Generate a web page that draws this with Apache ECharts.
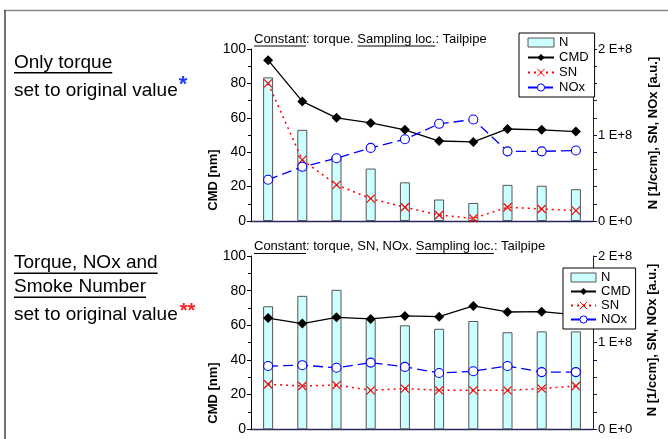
<!DOCTYPE html>
<html><head><meta charset="utf-8">
<script src="https://cdn.jsdelivr.net/npm/echarts@6/dist/echarts.min.js"></script>
<style>html,body{margin:0;padding:0;background:#fff;}#c{width:668px;height:439px;}</style>
</head><body><div id="c"></div>
<script>
// ---------- data ----------
const categories = ['1','2','3','4','5','6','7','8','9','10'];
// top chart: only torque set to original value
const cmdTop = [93.5, 69.5, 60, 57, 53, 46.5, 46, 53.5, 53, 52];          // CMD [nm]
const nTop   = [1.67, 1.06, 0.76, 0.61, 0.45, 0.25, 0.21, 0.42, 0.41, 0.37]; // N [E+8 1/ccm]
const snTop  = [1.60, 0.71, 0.42, 0.26, 0.16, 0.07, 0.03, 0.16, 0.14, 0.12]; // SN [a.u.]
const noxTop = [0.48, 0.63, 0.73, 0.85, 0.95, 1.13, 1.18, 0.81, 0.81, 0.82]; // NOx [a.u.]
// bottom chart: torque, NOx and smoke number set to original value
const cmdBot = [64.2, 61, 64.6, 63.7, 65.4, 65, 71.2, 67.7, 67.9, 66];
const nBot   = [1.42, 1.54, 1.61, 1.27, 1.20, 1.16, 1.25, 1.12, 1.13, 1.13];
const snBot  = [0.52, 0.50, 0.51, 0.45, 0.47, 0.45, 0.45, 0.45, 0.47, 0.50];
const noxBot = [0.73, 0.74, 0.71, 0.77, 0.72, 0.65, 0.67, 0.73, 0.66, 0.66];
const rightTickLabels = ['0 E+0', '1 E+8', '2 E+8'];
const seriesNames = ['N', 'CMD', 'SN', 'NOx'];
const titleTop = ['Constant', ': torque. ', 'Sampling loc.', ': Tailpipe'];
const titleBot = ['Constant', ': torque, SN, NOx. ', 'Sampling loc.', ': Tailpipe'];
const leftAxisName = 'CMD [nm]';
const rightAxisName = 'N [1/ccm], SN, NOx [a.u.]';

// ---------- helpers ----------
const FF = '"Liberation Sans", Arial, Helvetica, sans-serif';
const mctx = document.createElement('canvas').getContext('2d');
function tw(t, font) { mctx.font = font; return mctx.measureText(t).width; }
function txt(t, x, baseline, size, opt) {
  opt = opt || {};
  const font = (opt.bold ? 'bold ' : '') + size + 'px ' + FF;
  return { type: 'text', x: x, y: baseline - 0.35 * size, z: 10,
    style: { text: t, font: font, fill: opt.color || '#000', align: 'left', verticalAlign: 'middle' } };
}
function uline(x1, x2, y, w) {
  return { type: 'line', z: 10, shape: { x1: x1, y1: y, x2: x2, y2: y }, style: { stroke: '#000', lineWidth: w || 1 } };
}
function titleEls(parts, x, baseline) {
  const font = '13px ' + FF;
  const els = [txt(parts.join(''), x, baseline, 13)];
  let cx = x;
  parts.forEach((p, i) => {
    const w = tw(p, font);
    if (i % 2 === 0) els.push(uline(cx, cx + w, baseline + 2.5, 1));
    cx += w;
  });
  return els;
}
function vtext(t, cx, cy) {
  return { type: 'text', x: cx, y: cy, rotation: Math.PI / 2, z: 10,
    style: { text: t, font: 'bold 13px ' + FF, fill: '#000', align: 'center', verticalAlign: 'middle' } };
}

const grids = [
  { left: 251, right: 75, top: 49, height: 172 },
  { left: 251, right: 75, top: 256, height: 173.3 }
];
const xAxes = [], yAxes = [];
grids.forEach((g, i) => {
  xAxes.push({ type: 'category', gridIndex: i, data: categories, boundaryGap: true,
    axisLine: { lineStyle: { color: '#2a2a5a', width: 1.3 } }, axisTick: { show: false }, axisLabel: { show: false } });
  yAxes.push({ type: 'value', gridIndex: i, position: 'left', min: 0, max: 100, interval: 20,
    axisLine: { show: true, lineStyle: { color: '#000', width: 1 } },
    axisTick: { show: true, length: 4, lineStyle: { color: '#000' } },
    minorTick: { show: true, splitNumber: 2, length: 3, lineStyle: { color: '#000' } },
    splitLine: { show: false }, minorSplitLine: { show: false },
    axisLabel: { fontSize: 14, color: '#000', margin: 5, fontFamily: FF } });
  yAxes.push({ type: 'value', gridIndex: i, position: 'right', min: 0, max: 2, interval: 1,
    axisLine: { show: true, lineStyle: { color: '#1a1a50', width: 1 } },
    axisTick: { show: true, length: 4, lineStyle: { color: '#1a1a50' } },
    minorTick: { show: true, splitNumber: 5, length: 4, lineStyle: { color: '#1a1a50' } },
    splitLine: { show: false }, minorSplitLine: { show: false },
    axisLabel: { fontSize: 13, color: '#000', margin: 5, fontFamily: FF, formatter: v => rightTickLabels[v] } });
});

const xPath = 'path://M0,0L10,10M10,0L0,10';
function makeSeries(gi, N, CMD, SN, NOX) {
  return [
    { name: 'N', type: 'bar', xAxisIndex: gi, yAxisIndex: gi * 2 + 1, data: N, barWidth: 10,
      itemStyle: { color: '#ccffff', borderColor: '#555', borderWidth: 1 }, z: 2 },
    { name: 'CMD', type: 'line', xAxisIndex: gi, yAxisIndex: gi * 2, data: CMD,
      symbol: 'diamond', symbolSize: 10, itemStyle: { color: '#000' }, lineStyle: { color: '#000', width: 1.3 }, z: 3 },
    { name: 'SN', type: 'line', xAxisIndex: gi, yAxisIndex: gi * 2 + 1, data: SN,
      symbol: xPath, symbolSize: 8, itemStyle: { color: '#ff0000', borderColor: '#ff0000', borderWidth: 1.2 },
      lineStyle: { color: '#ff0000', width: 1.5, type: [2, 4] }, z: 4 },
    { name: 'NOx', type: 'line', xAxisIndex: gi, yAxisIndex: gi * 2 + 1, data: NOX,
      symbol: 'circle', symbolSize: 9, itemStyle: { color: '#fff', borderColor: '#0000ff', borderWidth: 1.1 },
      lineStyle: { color: '#0000ff', width: 1.3, type: [10, 5] }, z: 4 }
  ];
}

function legendCfg(left, top, gap, iw, padding) {
  return { orient: 'vertical', left: left, top: top, itemWidth: iw, itemHeight: 9, itemGap: gap, itemTextGap: 6,
    padding: padding, backgroundColor: '#fff', borderColor: '#000', borderWidth: 1, borderRadius: 0,
    selectedMode: false, z: 20,
    itemStyle: { borderWidth: 1 },
    textStyle: { fontSize: 13, color: '#000', fontFamily: FF },
    data: seriesNames.map(n => n === 'N' ? { name: n, icon: 'rect' } : { name: n }) };
}

const graphics = [
  { type: 'line', shape: { x1: 4, y1: 10.5, x2: 668, y2: 10.5 }, style: { stroke: '#888', lineWidth: 1.5 } },
  { type: 'line', shape: { x1: 5, y1: 10, x2: 5, y2: 439 }, style: { stroke: '#444', lineWidth: 1.5 } },
  txt('Only torque', 14, 69.5, 19),
  uline(14, 14 + tw('Only torque', '19px ' + FF), 72.8, 1.6),
  txt('set to original value', 14, 97.5, 19),
  txt('*', 15 + tw('set to original value', '19px ' + FF), 93, 22, { bold: true, color: '#1e3cff' }),
  txt('Torque, NOx and', 14, 269.5, 19),
  uline(14, 14 + tw('Torque, NOx and', '19px ' + FF), 273.3, 1.6),
  txt('Smoke Number', 14, 293.5, 19),
  uline(14, 14 + tw('Smoke Number', '19px ' + FF), 297.3, 1.6),
  txt('set to original value', 14, 321.5, 19),
  txt('**', 16 + tw('set to original value', '19px ' + FF), 318, 20, { bold: true, color: '#ff2020' }),
  ...titleEls(titleTop, 254, 43.5),
  ...titleEls(titleBot, 254, 251),
  vtext(leftAxisName, 213, 180),
  vtext(leftAxisName, 213, 393),
  vtext(rightAxisName, 653, 133),
  vtext(rightAxisName, 652, 340)
];

const chart = echarts.init(document.getElementById('c'), null, { renderer: 'canvas' });
chart.setOption({
  animation: false,
  backgroundColor: '#fff',
  textStyle: { fontFamily: FF },
  grid: grids,
  xAxis: xAxes,
  yAxis: yAxes,
  legend: [legendCfg(519, 33, 2, 26, [3, 6, 3, 8]), legendCfg(563, 268, 1, 25, [3, 5, 3, 7])],
  series: [...makeSeries(0, nTop, cmdTop, snTop, noxTop), ...makeSeries(1, nBot, cmdBot, snBot, noxBot)],
  graphic: graphics
});
</script>
</body></html>
